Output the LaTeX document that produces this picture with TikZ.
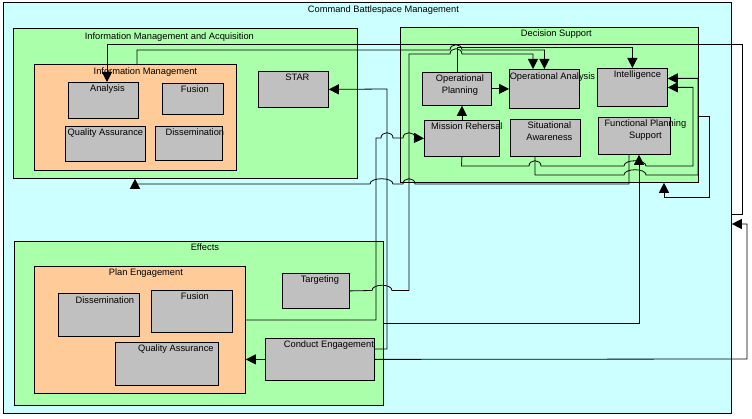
\documentclass[tikz,border=0pt]{standalone}
\usepackage{fontspec}
\setmainfont{Liberation Sans}
\usetikzlibrary{arrows.meta, positioning}

\definecolor{cyanbg}{RGB}{204,255,255}
\definecolor{greenbg}{RGB}{170,255,170}
\definecolor{orangebg}{RGB}{255,204,153}
\definecolor{graybg}{RGB}{192,192,192}

\newcommand{\hop}[3]{-- (#1,#3) .. controls (#1,#3-7) and (#2,#3-7) .. (#2,#3)}

\begin{document}
\begin{tikzpicture}[x=1pt, y=-1pt, line width=0.8pt,
    box/.style={draw, anchor=north west, inner sep=0pt},
    outer/.style={box, fill=cyanbg},
    group/.style={box, fill=greenbg},
    sub/.style={box, fill=orangebg},
    item/.style={box, fill=graybg},
    ttl/.style={inner sep=1pt, font=\fontsize{9.3}{12}\selectfont, align=center},
    arr/.style={-{Triangle[length=10pt,width=10pt]}}]
    \useasboundingbox (0,0) rectangle (752,419);

    \node[outer, minimum width=728pt, minimum height=411pt] (cbm) at (3,2) {};
    \node[ttl, below=2.5pt of cbm.north, xshift=16pt] (cbmtitle) {Command Battlespace Management};

    \node[group, minimum width=344pt, minimum height=150pt] (ima) at (13,28) {};
    \node[ttl, below=3pt of ima.north, xshift=-16pt] (imatitle) {Information Management and Acquisition};
    \node[sub, minimum width=202pt, minimum height=106pt] (im) at (34,64) {};
    \node[ttl, below=2.5pt of im.north, xshift=10pt] (imtitle) {Information Management};
    \node[item, minimum width=70pt, minimum height=36pt] (ana) at (68,82) {};
    \node[ttl, below=1.5pt of ana.north, xshift=4pt] (anatitle) {Analysis};
    \node[item, minimum width=61pt, minimum height=31pt] (fusa) at (162,83) {};
    \node[ttl, below=1.5pt of fusa.north, xshift=2pt] (fusatitle) {Fusion};
    \node[item, minimum width=80pt, minimum height=35pt] (qaa) at (65,126) {};
    \node[ttl, below=1.5pt of qaa.north] (qaatitle) {Quality Assurance};
    \node[item, minimum width=67pt, minimum height=34pt] (disa) at (155,126) {};
    \node[ttl, below=1.5pt of disa.north, xshift=6pt] (disatitle) {Dissemination};
    \node[item, minimum width=70pt, minimum height=36pt] (star) at (258,71) {};
    \node[ttl, below=1.5pt of star.north, xshift=4pt] (startitle) {STAR};

    \node[group, minimum width=298pt, minimum height=155pt] (ds) at (400,27) {};
    \node[ttl, below=1.5pt of ds.north, xshift=7pt] (dstitle) {Decision Support};
    \node[item, minimum width=69pt, minimum height=33pt] (op) at (422,72) {};
    \node[ttl, below=1.5pt of op.north, xshift=3pt] (optitle) {Operational\\Planning};
    \node[item, minimum width=70pt, minimum height=39pt] (oa) at (509,69) {};
    \node[ttl, below=2pt of oa.north, xshift=8pt] (oatitle) {Operational Analysis};
    \node[item, minimum width=70pt, minimum height=38pt] (intel) at (597,68) {};
    \node[ttl, below=1.5pt of intel.north, xshift=5pt] (inteltitle) {Intelligence};
    \node[item, minimum width=75pt, minimum height=36pt] (mr) at (424,120) {};
    \node[ttl, below=1.5pt of mr.north, xshift=5pt] (mrtitle) {Mission Rehersal};
    \node[item, minimum width=70pt, minimum height=37pt] (sa) at (510,119) {};
    \node[ttl, below=1.5pt of sa.north, xshift=4pt] (satitle) {Situational\\Awareness};
    \node[item, minimum width=72pt, minimum height=37pt] (fps) at (598,117) {};
    \node[ttl, below=1.5pt of fps.north, xshift=11pt] (fpstitle) {Functional Planning\\Support};

    \node[group, minimum width=369pt, minimum height=164pt] (eff) at (14,241) {};
    \node[ttl, below=1.5pt of eff.north, xshift=6pt] (efftitle) {Effects};
    \node[sub, minimum width=211pt, minimum height=127pt] (pe) at (34,266) {};
    \node[ttl, below=1.5pt of pe.north, xshift=6pt] (petitle) {Plan Engagement};
    \node[item, minimum width=81pt, minimum height=43pt] (disb) at (58,293) {};
    \node[ttl, below=2pt of disb.north, xshift=6pt] (disbtitle) {Dissemination};
    \node[item, minimum width=81pt, minimum height=42pt] (fusb) at (151,290) {};
    \node[ttl, below=1.5pt of fusb.north, xshift=3pt] (fusbtitle) {Fusion};
    \node[item, minimum width=103pt, minimum height=43pt] (qab) at (115,342) {};
    \node[ttl, below=1.5pt of qab.north, xshift=9pt] (qabtitle) {Quality Assurance};
    \node[item, minimum width=67pt, minimum height=35pt] (tgt) at (282,273) {};
    \node[ttl, below=1.5pt of tgt.north, xshift=4pt] (tgttitle) {Targeting};
    \node[item, minimum width=109pt, minimum height=42pt] (ce) at (265,338) {};
    \node[ttl, below=1.5pt of ce.north, xshift=9pt] (cetitle) {Conduct Engagement};

    \draw[arr] (cbm.east |- 0,214) -- (742,214) -- (742,44) -- (107,44) -- (107,0 |- ana.north);
    \draw[arr] (137,0 |- im.north) -- (137,50) \hop{450}{462}{50} -| (oa.north);
    \draw[arr] (op.north) |- (intel.north |- 0,47) -- (intel.north);
    \draw[arr] (tgt.east) \hop{372}{392}{290.5} -- (409,290.5) -- (409,54) \hop{450}{462}{54} -- (533,54) -- (533,0 |- oa.north);
    \draw[arr] (pe.east |- 0,320) -- (376,320) -- (376,138) \hop{381}{393}{138} \hop{403}{415}{138} -- (mr.west);
    \draw[arr] (ce.east |- 0,349) -- (387,349) -- (387,89) -- (star.east);
    \draw[arr] (ce.east) -- (747,359) -- (747,224) -- (cbm.east |- 0,224);
    \draw[arr] (ce.west) -- (pe.east |- ce.west);
    \draw[arr] (eff.east |- 0,323) -- (639,323) -- (639,0 |- fps.south);
    \draw[arr] (629,0 |- fps.south) -- (629,184) \hop{415}{403}{184} \hop{393}{370}{184} -- (135,184) -- (135,0 |- ima.south);
    \draw[arr] (mr.south) -- (461.5,166) \hop{529}{541}{166} \hop{624}{646}{166} -- (693,166) |- (intel.east);
    \draw[arr] (535,0 |- sa.south) -- (535,175) \hop{624}{646}{175} -- (698,175) |- ([yshift=9pt]intel.east);
    \draw[arr] (ds.east |- 0,116) -- (709,116) -- (709,197) -- (664,197) -- (664,0 |- ds.south);
    \draw[arr] (mr.north) -- (mr.north |- op.south);
    \draw[arr] (op.east) -- (oa.west |- op.east);
\end{tikzpicture}
\end{document}
